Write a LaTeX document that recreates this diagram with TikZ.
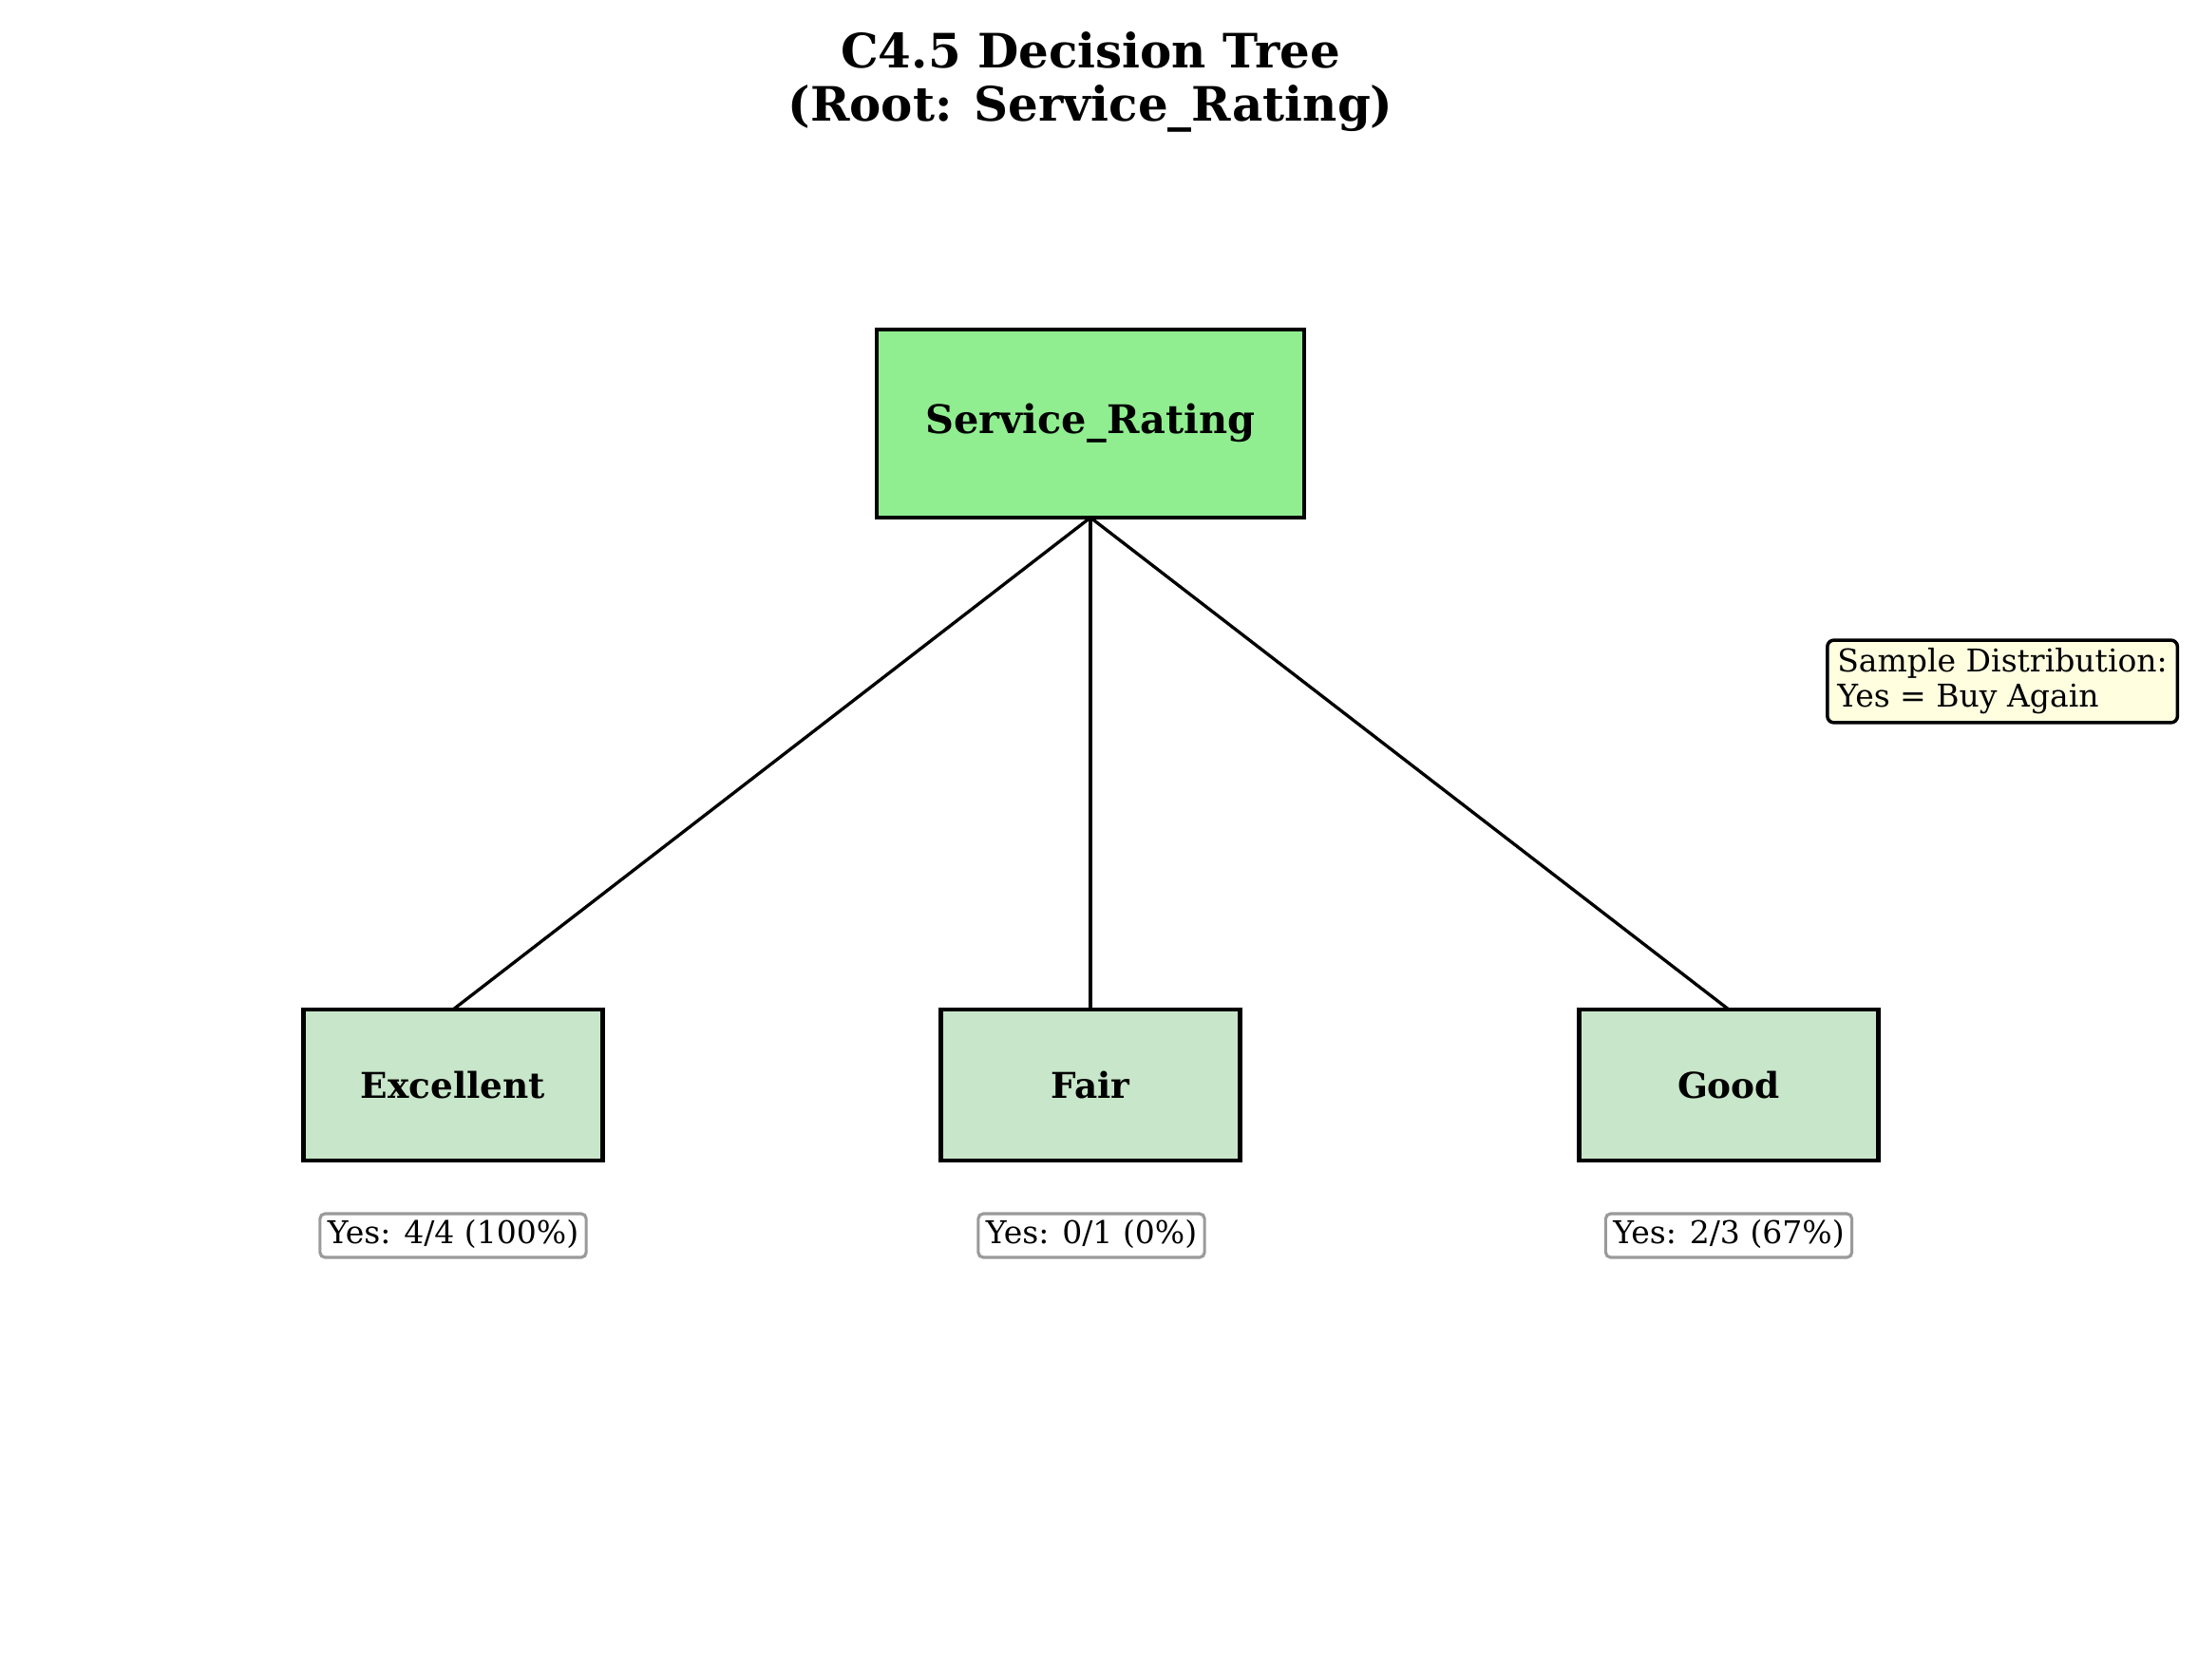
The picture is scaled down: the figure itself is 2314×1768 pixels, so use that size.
\documentclass[tikz,border=0pt]{standalone}
\usepackage{fontspec}
\setmainfont{DejaVu Serif}
\definecolor{rootgreen}{HTML}{90EE90}
\definecolor{leafgreen}{HTML}{C8E6C9}
\definecolor{legendyellow}{HTML}{FFFFE0}
\definecolor{labelgray}{HTML}{9A9A9A}
\begin{document}
\begin{tikzpicture}[x=0.02cm,y=-0.02cm,
  rootbox/.style={draw=black,fill=rootgreen,line width=2.4pt,minimum width=9cm,minimum height=3.96cm,inner sep=0pt,outer sep=0pt,font=\fontsize{23.6}{28}\selectfont\bfseries},
  leafbox/.style={draw=black,fill=leafgreen,line width=2.4pt,minimum width=6.3cm,minimum height=3.18cm,inner sep=0pt,outer sep=0pt,font=\fontsize{21.3}{25}\selectfont\bfseries},
  countbox/.style={draw=labelgray,fill=white,line width=1.8pt,rounded corners=3pt,inner xsep=4.5pt,inner ysep=3.7pt,text height=14.3pt,text depth=4.5pt,font=\fontsize{18.8}{22}\selectfont},
  legendbox/.style={draw=black,fill=legendyellow,line width=2pt,rounded corners=4pt,inner xsep=6pt,inner ysep=5pt,align=left,font=\fontsize{18.8}{21}\selectfont},
  branch/.style={line width=1.9pt,draw=black},
  titletext/.style={align=center,inner sep=0pt,font=\fontsize{28.4}{31.9}\selectfont\bfseries}]
\useasboundingbox[fill=white] (0,0) rectangle (2314,1768);
\node[titletext] (title) at (1148,86) {C4.5 Decision Tree\\(Root: Service\_Rating)};
\node[rootbox] (root) at (1148,446) {Service\_Rating};
\node[leafbox] (exc) at (477,1142.5) {Excellent};
\node[leafbox] (fair) at (1148,1142.5) {Fair};
\node[leafbox] (good) at (1820,1142.5) {Good};
\draw[branch] (root.south) -- (exc.north);
\draw[branch] (root.south) -- (fair.north);
\draw[branch] (root.south) -- (good.north);
\node[countbox] (excc) at (477,1301) {Yes: 4/4 (100\%)};
\node[countbox] (fairc) at (1149,1301) {Yes: 0/1 (0\%)};
\node[countbox] (goodc) at (1820,1301) {Yes: 2/3 (67\%)};
\node[legendbox,anchor=west] (legend) at (1922,717.5) {Sample Distribution:\\Yes = Buy Again};
\end{tikzpicture}
\end{document}
